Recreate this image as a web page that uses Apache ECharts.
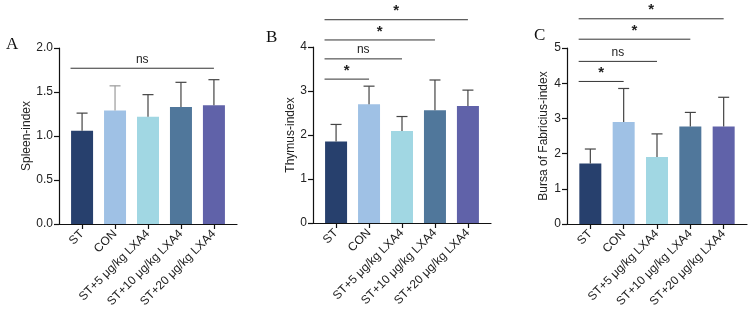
<!DOCTYPE html>
<html>
<head>
<meta charset="utf-8">
<script src="https://cdn.jsdelivr.net/npm/echarts@6/dist/echarts.min.js"></script>
<style>
  html, body { margin: 0; padding: 0; background: #fff; }
  #chart { width: 752px; height: 315px; }
</style>
</head>
<body>
<div id="chart"></div>
<script>
// 分组
const groups = ['ST', 'CON', 'ST+5 μg/kg LXA4', 'ST+10 μg/kg LXA4', 'ST+20 μg/kg LXA4'];
const barColors = ['#27406d', '#9fc1e5', '#a1d7e3', '#50779b', '#6062a9'];

// 脾脏指数
const spleenMean = [1.06, 1.29, 1.22, 1.33, 1.35];
const spleenSd = [0.20, 0.28, 0.25, 0.28, 0.29];
const spleenTicks = [0, 0.5, 1.0, 1.5, 2.0];
// [对比组, 标记, 高度]
const spleenSig = [[4, 'ns', 1.77]];

// 胸腺指数
const thymusMean = [1.85, 2.70, 2.09, 2.56, 2.66];
const thymusSd = [0.39, 0.41, 0.33, 0.69, 0.36];
const thymusTicks = [0, 1, 2, 3, 4];
const thymusSig = [[1, '*', 3.27], [2, 'ns', 3.73], [3, '*', 4.16], [4, '*', 4.62]];

// 法氏囊指数
const bursaMean = [1.72, 2.90, 1.90, 2.77, 2.77];
const bursaSd = [0.41, 0.95, 0.66, 0.40, 0.83];
const bursaTicks = [0, 1, 2, 3, 4, 5];
const bursaSig = [[1, '*', 4.05], [2, 'ns', 4.62], [3, '*', 5.25], [4, '*', 5.83]];

const FONT = '"Liberation Sans", Arial, sans-serif';

const panels = [
  { letter: 'A', name: 'Spleen-index', mean: spleenMean, sd: spleenSd, ticks: spleenTicks, sig: spleenSig,
    digits: 1, nameGap: 25, grid: { left: 59, top: 48, width: 178, height: 176 }, letterPos: [6, 36],
    errColors: ['#444', '#9a9a9a', '#444', '#444', '#444'] },
  { letter: 'B', name: 'Thymus-index', mean: thymusMean, sd: thymusSd, ticks: thymusTicks, sig: thymusSig,
    digits: 0, nameGap: 16, grid: { left: 313, top: 47, width: 178, height: 176 }, letterPos: [266, 29],
    errColors: ['#444', '#444', '#444', '#444', '#444'] },
  { letter: 'C', name: 'Bursa of Fabricius-index', mean: bursaMean, sd: bursaSd, ticks: bursaTicks, sig: bursaSig,
    digits: 0, nameGap: 17, grid: { left: 567, top: 48, width: 180, height: 176 }, letterPos: [534, 27],
    errColors: ['#444', '#444', '#444', '#444', '#444'] }
];

const option = {
  animation: false,
  backgroundColor: '#fff',
  grid: [],
  xAxis: [],
  yAxis: [],
  series: [],
  graphic: []
};

panels.forEach((p, k) => {
  option.grid.push(Object.assign({ containLabel: false }, p.grid));

  option.xAxis.push({
    type: 'value',
    gridIndex: k,
    min: -0.7,
    max: 4.7,
    splitLine: { show: false },
    axisLine: { show: true, onZero: false, lineStyle: { color: '#111', width: 1.2 } },
    axisTick: { show: true, customValues: [0, 1, 2, 3, 4], length: 5, lineStyle: { color: '#111', width: 1.2 } },
    axisLabel: {
      customValues: [0, 1, 2, 3, 4],
      formatter: v => groups[Math.round(v)],
      rotate: 45,
      margin: 8,
      fontFamily: FONT,
      fontSize: 12,
      color: '#222'
    }
  });

  const top = p.ticks[p.ticks.length - 1];
  option.yAxis.push({
    type: 'value',
    gridIndex: k,
    min: 0,
    max: top,
    interval: p.ticks[1] - p.ticks[0],
    name: p.name,
    nameLocation: 'middle',
    nameGap: p.nameGap,
    nameTextStyle: { fontFamily: FONT, fontSize: 12, color: '#222' },
    splitLine: { show: false },
    axisLine: { show: true, onZero: false, lineStyle: { color: '#111', width: 1.2 } },
    axisTick: { show: true, length: 5, lineStyle: { color: '#111', width: 1.2 } },
    axisLabel: {
      formatter: v => v.toFixed(p.digits),
      margin: 6,
      fontFamily: FONT,
      fontSize: 12,
      color: '#222'
    }
  });

  option.series.push({
    type: 'bar',
    xAxisIndex: k,
    yAxisIndex: k,
    barWidth: 22,
    data: p.mean.map((m, i) => ({ value: [i, m], itemStyle: { color: barColors[i] } })),
    z: 2
  });

  // 误差线 (仅上方)
  option.series.push({
    type: 'custom',
    xAxisIndex: k,
    yAxisIndex: k,
    z: 3,
    data: p.mean.map((m, i) => [i, m, p.sd[i]]),
    renderItem: (params, api) => {
      const x = api.value(0), m = api.value(1), s = api.value(2);
      const p0 = api.coord([x, m]);
      const p1 = api.coord([x, m + s]);
      const c = p.errColors[params.dataIndex];
      return {
        type: 'group',
        children: [
          { type: 'line', shape: { x1: p0[0], y1: p0[1], x2: p1[0], y2: p1[1] }, style: { stroke: c, lineWidth: 1.2 } },
          { type: 'line', shape: { x1: p1[0] - 5.5, y1: p1[1], x2: p1[0] + 5.5, y2: p1[1] }, style: { stroke: c, lineWidth: 1.2 } }
        ]
      };
    }
  });

  // 显著性标记
  option.series.push({
    type: 'custom',
    xAxisIndex: k,
    yAxisIndex: k,
    z: 4,
    clip: false,
    data: p.sig.map(s => [-0.35, s[0], s[2]]),
    renderItem: (params, api) => {
      const a = api.coord([api.value(0), api.value(2)]);
      const b = api.coord([api.value(1), api.value(2)]);
      const label = p.sig[params.dataIndex][1];
      const star = label === '*';
      return {
        type: 'group',
        children: [
          { type: 'line', shape: { x1: a[0], y1: a[1], x2: b[0], y2: b[1] }, style: { stroke: '#333', lineWidth: 1 } },
          {
            type: 'text',
            style: {
              text: label,
              x: (a[0] + b[0]) / 2,
              y: a[1] - (star ? 1 : 3),
              align: 'center',
              verticalAlign: 'bottom',
              font: star ? 'bold 15px ' + FONT : '12px ' + FONT,
              fill: '#222'
            }
          }
        ]
      };
    }
  });

  option.graphic.push({
    type: 'text',
    left: p.letterPos[0],
    top: p.letterPos[1],
    style: { text: p.letter, font: '17px "Liberation Serif", "Times New Roman", serif', fill: '#111' }
  });
});

const chart = echarts.init(document.getElementById('chart'));
chart.setOption(option);
window.addEventListener('resize', () => chart.resize());
</script>
</body>
</html>
